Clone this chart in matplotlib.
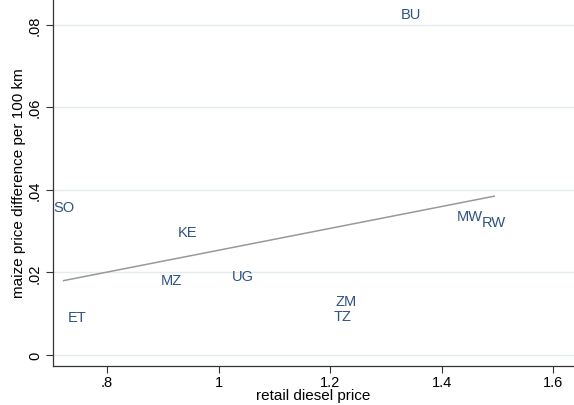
import numpy as np
import matplotlib.pyplot as plt

# country codes and their values (diesel price vs maize price gap)
countries = ['BU', 'SO', 'KE', 'MZ', 'UG', 'ET', 'ZM', 'TZ', 'MW', 'RW']
diesel = [1.344, 0.722, 0.944, 0.915, 1.044, 0.747, 1.229, 1.222, 1.451, 1.494]
maize_gap = [0.0826, 0.0358, 0.0298, 0.0182, 0.0191, 0.0092, 0.0131, 0.0094, 0.0337, 0.0322]

xticks = [0.8, 1.0, 1.2, 1.4, 1.6]
xticklabels = ['.8', '1', '1.2', '1.4', '1.6']
yticks = [0, 0.02, 0.04, 0.06, 0.08]
yticklabels = ['0', '.02', '.04', '.06', '.08']

plt.rcParams['font.family'] = ['Liberation Sans', 'DejaVu Sans']

fig = plt.figure(figsize=(5.74, 4.06), dpi=100)
ax = fig.add_axes([53 / 574, 1 - 366.7 / 406, 521 / 574, 366.7 / 406])

txt_col = '#2e5384'
for c, x, y in zip(countries, diesel, maize_gap):
    ax.text(x, y, c, color=txt_col, fontsize=10.5, ha='center', va='center')

# linear fit over the data range
slope, icpt = np.polyfit(diesel, maize_gap, 1)
fx = np.array([min(diesel), max(diesel)])
ax.plot(fx, icpt + slope * fx, color='#999999', lw=1.1)

ax.set_xlim(0.703, 1.637)
ax.set_ylim(-0.0026, 0.0862)
ax.set_xticks(xticks)
ax.set_xticklabels(xticklabels)
ax.set_yticks(yticks)
ax.set_yticklabels(yticklabels, rotation=90, va='center')
ax.tick_params(labelsize=10.5, length=5, width=0.8, color='#333333', pad=3)
ax.tick_params(axis='x', pad=2)
ax.grid(axis='y', color='#e3edee', lw=1)
ax.set_axisbelow(True)

for s in ['top', 'right']:
    ax.spines[s].set_visible(False)
for s in ['left', 'bottom']:
    ax.spines[s].set_color('#333333')
    ax.spines[s].set_linewidth(0.9)

ax.set_xlabel('retail diesel price', fontsize=11, labelpad=-1)
ax.set_ylabel('maize price difference per 100 km', fontsize=11, labelpad=1)

fig.savefig('out.png', dpi=100)
